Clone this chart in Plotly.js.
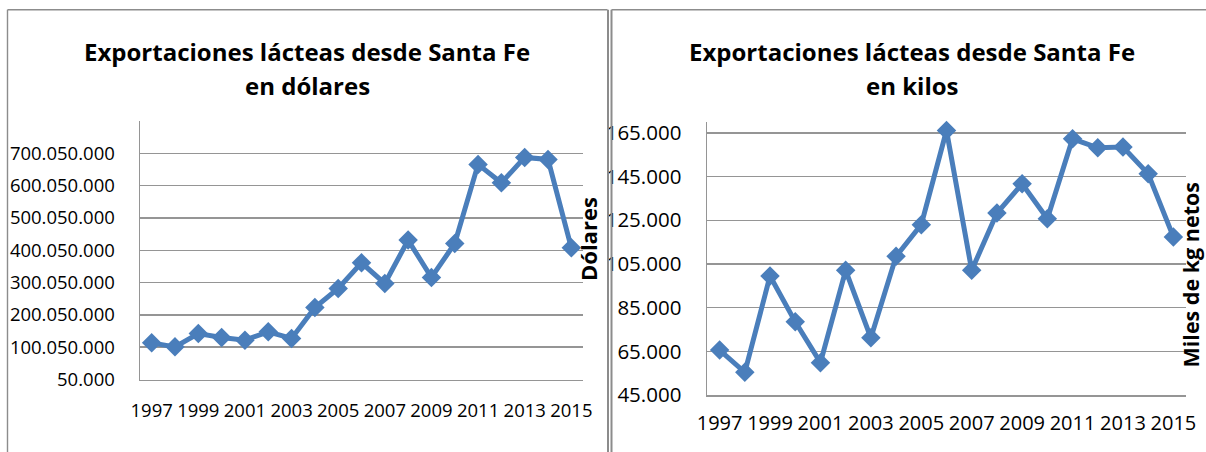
<!DOCTYPE html>
<html>
<head>
<meta charset="utf-8">
<script src="https://cdn.plot.ly/plotly-3.0.1.min.js"></script>
<style>html,body{margin:0;padding:0;background:#fff;}#chart{width:1206px;height:452px;}</style>
</head>
<body>
<div id="chart"></div>
<script>
// ---- data ----
const years = ['1997','1998','1999','2000','2001','2002','2003','2004','2005','2006','2007','2008','2009','2010','2011','2012','2013','2014','2015'];
const yearLabels = ['1997','1999','2001','2003','2005','2007','2009','2011','2013','2015'];
const dolares = [113500000, 101100000, 142400000, 130000000, 121800000, 147600000, 127000000, 222900000, 281700000, 361200000, 297200000, 431400000, 315800000, 421000000, 665700000, 608900000, 687300000, 681100000, 407700000];
const kilos = [65600, 55400, 99500, 78500, 59800, 102100, 71200, 108500, 123000, 166100, 102100, 128300, 141700, 125700, 162300, 158200, 158500, 146300, 117400];
const dolaresTicks = [50000, 100050000, 200050000, 300050000, 400050000, 500050000, 600050000, 700050000];
const kilosTicks = [45000, 65000, 85000, 105000, 125000, 145000, 165000];
const titleLine1 = 'Exportaciones lácteas desde Santa Fe';
const titleLeft2 = 'en dólares';
const titleRight2 = 'en kilos';
const yTitleLeft = 'Dólares';
const yTitleRight = 'Miles de kg netos';

// ---- layout helpers (pixel -> paper) ----
const W = 1206, H = 452;
const px = x => x / W;
const py = y => 1 - y / H;

const BLUE = '#4A7EBB';
const GRID = '#959595';
const FONT = 'Open Sans, sans-serif';

const traceStyle = {
  type: 'scatter', mode: 'lines+markers',
  line: {color: BLUE, width: 5},
  marker: {symbol: 'diamond', size: 15, color: BLUE},
  cliponaxis: false, hoverinfo: 'skip'
};

const data = [
  Object.assign({}, traceStyle, {x: years, y: dolares, xaxis: 'x', yaxis: 'y'}),
  Object.assign({}, traceStyle, {x: years, y: kilos, xaxis: 'x2', yaxis: 'y2'})
];

function xAxis(domain, anchor, fs, standoff) {
  return {
    domain: domain, anchor: anchor, type: 'category',
    categoryorder: 'array', categoryarray: years,
    range: [-0.5, years.length - 0.5],
    tickvals: yearLabels, ticktext: yearLabels,
    showline: true, linecolor: GRID, linewidth: 1.5,
    showgrid: false, zeroline: false, ticks: '',
    ticklabelstandoff: standoff,
    tickfont: {family: FONT, size: fs, color: '#000'}
  };
}
function yAxis(domain, anchor, range, ticks, fs) {
  return {
    domain: domain, anchor: anchor, range: range,
    tickvals: ticks, tickformat: ',d',
    showline: true, linecolor: GRID, linewidth: 1.5,
    showgrid: true, gridcolor: GRID, gridwidth: 1.5,
    zeroline: false, ticks: '',
    ticklabelstandoff: 20,
    tickfont: {family: FONT, size: fs, color: '#000'}
  };
}

const layout = {
  width: W, height: H,
  margin: {l: 0, r: 0, t: 0, b: 0},
  paper_bgcolor: '#fff', plot_bgcolor: 'rgba(0,0,0,0)',
  showlegend: false,
  separators: ',.',
  xaxis: xAxis([px(140), px(583)], 'y', 18.5, 14),
  yaxis: yAxis([py(379.5), py(121)], 'x', [50000, 800050000], dolaresTicks, 18.5),
  xaxis2: xAxis([px(707), px(1186)], 'y2', 20, 9),
  yaxis2: yAxis([py(395), py(122)], 'x2', [45000, 170000], kilosTicks, 20.5),
  shapes: [
    {type: 'line', xref: 'paper', yref: 'paper', x0: px(7.5), x1: px(607.5), y0: py(9.7), y1: py(9.7), line: {color: '#8c8c8c', width: 1.4}},
    {type: 'line', xref: 'paper', yref: 'paper', x0: px(7.5), x1: px(7.5), y0: py(9.7), y1: py(452), line: {color: '#8c8c8c', width: 1.4}},
    {type: 'line', xref: 'paper', yref: 'paper', x0: px(608), x1: px(608), y0: py(9.7), y1: py(452), line: {color: '#8c8c8c', width: 2}},
    {type: 'line', xref: 'paper', yref: 'paper', x0: px(611.5), x1: px(611.5), y0: py(9.7), y1: py(452), line: {color: '#8c8c8c', width: 2}},
    {type: 'line', xref: 'paper', yref: 'paper', x0: px(611.5), x1: px(1206), y0: py(9.7), y1: py(9.7), line: {color: '#8c8c8c', width: 1.4}}
  ],
  annotations: [
    {text: '<b>' + titleLine1 + '</b>', x: px(307), y: py(51), xref: 'paper', yref: 'paper', showarrow: false, xanchor: 'center', yanchor: 'middle', font: {family: FONT, size: 24, color: '#000'}},
    {text: '<b>' + titleLeft2 + '</b>', x: px(307), y: py(86), xref: 'paper', yref: 'paper', showarrow: false, xanchor: 'center', yanchor: 'middle', font: {family: FONT, size: 24, color: '#000'}},
    {text: '<b>' + titleLine1 + '</b>', x: px(912), y: py(51), xref: 'paper', yref: 'paper', showarrow: false, xanchor: 'center', yanchor: 'middle', font: {family: FONT, size: 24, color: '#000'}},
    {text: '<b>' + titleRight2 + '</b>', x: px(912), y: py(86), xref: 'paper', yref: 'paper', showarrow: false, xanchor: 'center', yanchor: 'middle', font: {family: FONT, size: 24, color: '#000'}},
    {text: '<b>' + yTitleLeft + '</b>', x: px(588), y: py(239), xref: 'paper', yref: 'paper', showarrow: false, textangle: -90, xanchor: 'center', yanchor: 'middle', font: {family: FONT, size: 22, color: '#000'}},
    {text: '<b>' + yTitleRight + '</b>', x: px(1206), y: py(275), xref: 'paper', yref: 'paper', showarrow: false, textangle: -90, xanchor: 'right', yanchor: 'middle', font: {family: FONT, size: 21.5, color: '#000'}}
  ]
};

Plotly.newPlot('chart', data, layout, {staticPlot: true, displayModeBar: false});
</script>
</body>
</html>
